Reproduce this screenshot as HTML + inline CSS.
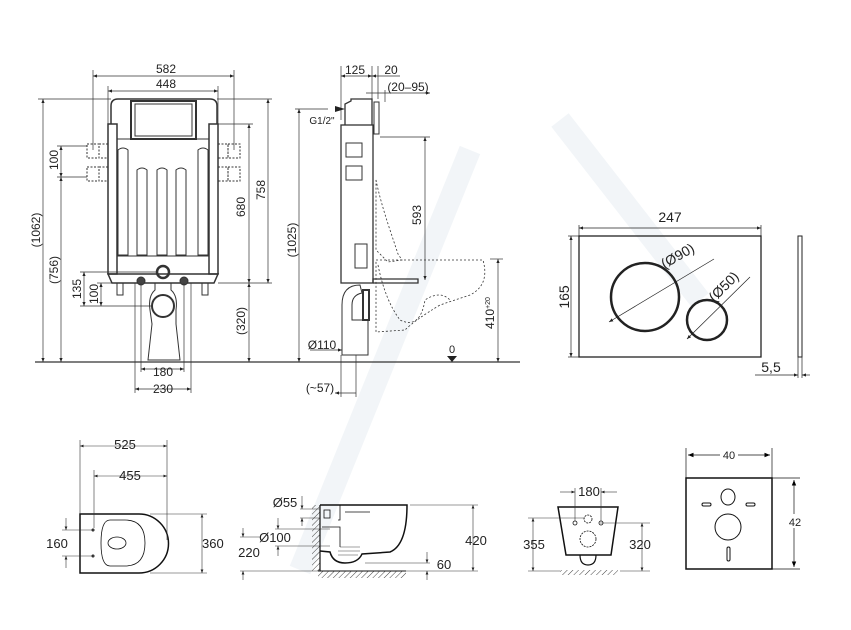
<!DOCTYPE html>
<html><head><meta charset="utf-8"><style>
html,body{margin:0;padding:0;background:#fff}
svg{display:block}
text{font-family:"Liberation Sans",sans-serif;fill:#222}
</style></head><body>
<svg width="851" height="630" viewBox="0 0 851 630" xmlns="http://www.w3.org/2000/svg">
<defs>
<marker id="a" viewBox="0 0 10 10" refX="10" refY="5" markerWidth="6" markerHeight="6" orient="auto-start-reverse"><path d="M0,1 L10,5 L0,9z" fill="#222"/></marker>
<marker id="b" viewBox="0 0 10 10" refX="10" refY="5" markerWidth="8" markerHeight="8" orient="auto-start-reverse"><path d="M0,1 L10,5 L0,9z" fill="#000"/></marker>
<pattern id="h" width="4" height="4" patternUnits="userSpaceOnUse" patternTransform="rotate(45)"><line x1="0" y1="0" x2="0" y2="4" stroke="#444" stroke-width="1"/></pattern>
</defs>
<g stroke="#f2f5f8" stroke-width="22" fill="none">
<path d="M300,570 L470,150"/><path d="M560,120 L700,300"/>
</g>
<!-- FRONT VIEW -->
<g stroke="#333" stroke-width="1" fill="none">
<line x1="35" y1="362" x2="520" y2="362" stroke-width="1.2"/>
<path d="M111,124 L111,106 Q111,99 118,99 L210,99 Q217,99 217,106 L217,124" stroke-width="1.5"/>
<rect x="108" y="124" width="9" height="150" stroke-width="1.5"/>
<rect x="209" y="124" width="9" height="150" stroke-width="1.5"/>
<line x1="117" y1="139" x2="209" y2="139"/>
<rect x="131" y="101" width="65" height="38" stroke-width="2"/>
<rect x="135" y="104" width="57" height="32"/>
<path d="M117,256 L209,256"/>
<path d="M118,150 q5,-4 10,0 V255 H118z M137,170 q5,-4 10,0 V255 H137z M157,170 q5,-4 10,0 V255 H157z M176,170 q5,-4 10,0 V255 H176z M198,150 q5,-4 10,0 V255 H198z"/>
<path d="M108,274 L218,274 L214,283 L112,283z" stroke-width="1.5"/>
<rect x="117" y="283" width="6" height="12"/><rect x="202" y="283" width="6" height="12"/>
<circle cx="163" cy="272" r="6" stroke-width="2.5"/>
<circle cx="141" cy="281" r="4" fill="#444"/><circle cx="184" cy="281" r="4" fill="#444"/>
<path d="M155,283 L171,283 L171,290 Q178,296 176,310 L176,324 L180,360 L148,360 L152,324 L150,310 Q148,296 155,290z"/>
<circle cx="163" cy="306" r="11" stroke-width="2"/>
<g stroke-dasharray="2,1.5"><rect x="87" y="144" width="12" height="14"/><rect x="99" y="144" width="9" height="14"/><rect x="87" y="167" width="12" height="14"/><rect x="99" y="167" width="9" height="14"/>
<rect x="218" y="144" width="10" height="14"/><rect x="228" y="144" width="12" height="14"/><rect x="218" y="167" width="10" height="14"/><rect x="228" y="167" width="12" height="14"/></g>
</g>
<g stroke="#333" stroke-width="0.7" fill="none">
<line x1="93" y1="70" x2="93" y2="150"/><line x1="234" y1="70" x2="234" y2="150"/>
<line x1="93" y1="76" x2="234" y2="76" marker-start="url(#a)" marker-end="url(#a)"/>
<line x1="108" y1="86" x2="108" y2="124"/><line x1="218" y1="86" x2="218" y2="124"/>
<line x1="108" y1="91" x2="218" y2="91" marker-start="url(#a)" marker-end="url(#a)"/>
<line x1="38" y1="99" x2="111" y2="99"/><line x1="43" y1="99" x2="43" y2="362" marker-start="url(#a)" marker-end="url(#a)"/>
<line x1="57" y1="146" x2="87" y2="146"/><line x1="57" y1="177" x2="87" y2="177"/>
<line x1="61" y1="146" x2="61" y2="177" marker-start="url(#a)" marker-end="url(#a)"/>
<line x1="61" y1="177" x2="61" y2="362" marker-start="url(#a)" marker-end="url(#a)"/>
<line x1="80" y1="272" x2="157" y2="272"/><line x1="80" y1="306" x2="152" y2="306"/><line x1="97" y1="283" x2="112" y2="283"/>
<line x1="84" y1="272" x2="84" y2="306" marker-start="url(#a)" marker-end="url(#a)"/>
<line x1="101" y1="283" x2="101" y2="306" marker-start="url(#a)" marker-end="url(#a)"/>
<line x1="217" y1="99" x2="272" y2="99"/><line x1="268" y1="99" x2="268" y2="283" marker-start="url(#a)" marker-end="url(#a)"/>
<line x1="218" y1="124" x2="253" y2="124"/><line x1="218" y1="283" x2="272" y2="283"/>
<line x1="249" y1="124" x2="249" y2="283" marker-start="url(#a)" marker-end="url(#a)"/>
<line x1="249" y1="283" x2="249" y2="362" marker-start="url(#a)" marker-end="url(#a)"/>
<line x1="141" y1="283" x2="141" y2="372"/><line x1="184" y1="283" x2="184" y2="372"/>
<line x1="135" y1="283" x2="135" y2="393"/><line x1="191" y1="283" x2="191" y2="393"/>
<line x1="141" y1="369" x2="184" y2="369" marker-start="url(#a)" marker-end="url(#a)"/>
<line x1="135" y1="389" x2="191" y2="389" marker-start="url(#a)" marker-end="url(#a)"/>
</g>
<g font-size="12">
<text x="166" y="73" text-anchor="middle">582</text>
<text x="166" y="88" text-anchor="middle">448</text>
<text transform="translate(40,230) rotate(-90)" text-anchor="middle">(1062)</text>
<text transform="translate(58,160) rotate(-90)" text-anchor="middle">100</text>
<text transform="translate(58,270) rotate(-90)" text-anchor="middle">(756)</text>
<text transform="translate(81,289) rotate(-90)" text-anchor="middle">135</text>
<text transform="translate(98,294) rotate(-90)" text-anchor="middle">100</text>
<text transform="translate(265,190) rotate(-90)" text-anchor="middle">758</text>
<text transform="translate(245,207) rotate(-90)" text-anchor="middle">680</text>
<text transform="translate(245,321) rotate(-90)" text-anchor="middle">(320)</text>
<text x="163" y="376" text-anchor="middle">180</text>
<text x="163" y="393" text-anchor="middle">230</text>
</g>
<!-- SIDE VIEW -->
<g stroke="#333" stroke-width="1.3" fill="none">
<path d="M345,125 V104 L351,101 V99 L372,99 V125"/>
<rect x="341" y="125" width="32" height="158"/>
<rect x="374" y="102" width="5" height="32" stroke-width="1"/>
<rect x="346" y="143" width="16" height="14" stroke-width="1"/><rect x="346" y="166" width="16" height="14" stroke-width="1"/>
<rect x="355" y="244" width="12" height="24" stroke-width="1"/>
<path d="M373,283 V279 H418 V283 H373"/>
<path d="M360,285 Q342,285 342,305 V355 H368 V320 H352 V305 Q352,295 362,293z" stroke-width="1"/>
<rect x="363" y="290" width="6" height="30" stroke-width="2"/>
<g stroke-dasharray="2,2" stroke-width="0.8">
<path d="M376,260 L483,260 Q490,285 470,295 L440,305 Q415,320 405,330 L376,332z"/>
<path d="M378,265 Q385,300 400,320 Q420,330 425,300 Q440,290 450,300"/>
<path d="M376,180 Q380,200 390,230 L398,254 L402,260 L388,262 L376,250 z"/>
</g>
</g>
<g stroke="#333" stroke-width="0.7" fill="none">
<line x1="341" y1="66" x2="341" y2="120"/><line x1="372" y1="66" x2="372" y2="99"/><line x1="378" y1="66" x2="378" y2="99"/><line x1="385" y1="90" x2="385" y2="102"/>
<line x1="341" y1="76" x2="372" y2="76" marker-start="url(#a)" marker-end="url(#a)"/>
<line x1="372" y1="76" x2="400" y2="76" marker-start="url(#a)"/>
<line x1="366" y1="93" x2="430" y2="93" marker-end="url(#a)"/>
<line x1="295" y1="109" x2="328" y2="109"/>
<line x1="299" y1="109" x2="299" y2="362" marker-start="url(#a)" marker-end="url(#a)"/>
<line x1="380" y1="137" x2="430" y2="137"/><line x1="425" y1="137" x2="425" y2="280" marker-start="url(#a)" marker-end="url(#a)"/>
<line x1="490" y1="259" x2="503" y2="259"/><line x1="498" y1="259" x2="498" y2="362" marker-start="url(#a)" marker-end="url(#a)"/>
<line x1="310" y1="350" x2="342" y2="350" marker-end="url(#a)"/>
<line x1="341" y1="355" x2="341" y2="397"/><line x1="356" y1="355" x2="356" y2="397"/>
<line x1="335" y1="393" x2="356" y2="393" marker-start="url(#a)"/>
</g>
<path d="M335,106 L345,109 L335,112z" fill="#222"/>
<path d="M447,356 L457,356 L452,362z" fill="#222"/>
<g font-size="11">
<text x="355" y="74" text-anchor="middle" font-size="12">125</text>
<text x="391" y="74" text-anchor="middle" font-size="12">20</text>
<text x="408" y="91" text-anchor="middle" font-size="12">(20–95)</text>
<text x="322" y="124" text-anchor="middle" font-size="10">G1/2"</text>
<text transform="translate(296,240) rotate(-90)" text-anchor="middle" font-size="12">(1025)</text>
<text transform="translate(421,215) rotate(-90)" text-anchor="middle" font-size="12">593</text>
<text transform="translate(494,313) rotate(-90)" text-anchor="middle" font-size="12">410<tspan font-size="7" dy="-4">+20</tspan></text>
<text x="322" y="349" text-anchor="middle" font-size="12">Ø110</text>
<text x="320" y="392" text-anchor="middle" font-size="12">(~57)</text>
<text x="452" y="353" text-anchor="middle" font-size="11">0</text>
</g>
<!-- FLUSH PLATE -->
<g stroke="#222" fill="none">
<rect x="579" y="236" width="182" height="121" stroke-width="1.3"/>
<circle cx="645" cy="297" r="34" stroke-width="2.5"/>
<circle cx="707" cy="320" r="20" stroke-width="2.5"/>
<rect x="798" y="236" width="4" height="121" stroke-width="1"/>
<line x1="579" y1="225" x2="579" y2="236" stroke-width="0.7"/><line x1="761" y1="225" x2="761" y2="236" stroke-width="0.7"/>
<line x1="579" y1="228" x2="761" y2="228" stroke-width="0.7" marker-start="url(#a)" marker-end="url(#a)"/>
<line x1="568" y1="236" x2="579" y2="236" stroke-width="0.7"/><line x1="568" y1="357" x2="579" y2="357" stroke-width="0.7"/>
<line x1="571" y1="236" x2="571" y2="357" stroke-width="0.7" marker-start="url(#a)" marker-end="url(#a)"/>
<line x1="609" y1="322" x2="714" y2="259" stroke-width="0.7" marker-start="url(#a)"/>
<line x1="687" y1="339" x2="750" y2="277" stroke-width="0.7" marker-start="url(#a)"/>
<line x1="798" y1="357" x2="798" y2="378" stroke-width="0.7"/><line x1="802" y1="357" x2="802" y2="378" stroke-width="0.7"/>
<line x1="755" y1="375" x2="798" y2="375" stroke-width="0.7" marker-end="url(#a)"/>
<line x1="802" y1="375" x2="810" y2="375" stroke-width="0.7" marker-start="url(#a)"/>
</g>
<g font-size="14">
<text x="670" y="222" text-anchor="middle">247</text>
<text transform="translate(569,297) rotate(-90)" text-anchor="middle">165</text>
<text transform="translate(680,260) rotate(-30)" text-anchor="middle">(Ø90)</text>
<text transform="translate(727,290) rotate(-45)" text-anchor="middle">(Ø50)</text>
<text x="771" y="372" text-anchor="middle">5,5</text>
</g>
<!-- BOTTOM: TOP VIEW -->
<g stroke="#111" fill="none">
<path d="M80,514 L139,514 A29.5,29.5 0 0 1 139,573 L80,573z" stroke-width="1.5"/>
<path d="M125,520 Q145,520 145,543 Q145,566 125,566 L110,566 Q101,566 101,543 Q101,520 110,520z" stroke-width="0.8"/>
<ellipse cx="117" cy="543" rx="9" ry="6" stroke-width="0.8"/>
<circle cx="93" cy="530" r="1" /><circle cx="93" cy="556" r="1"/>
</g>
<g stroke="#333" stroke-width="0.6" fill="none">
<line x1="80" y1="440" x2="80" y2="514"/><line x1="167" y1="440" x2="167" y2="540"/><line x1="94" y1="470" x2="94" y2="528"/>
<line x1="80" y1="446" x2="167" y2="446" marker-start="url(#a)" marker-end="url(#a)"/>
<line x1="94" y1="476" x2="167" y2="476" marker-start="url(#a)" marker-end="url(#a)"/>
<line x1="150" y1="514" x2="207" y2="514"/><line x1="150" y1="573" x2="207" y2="573"/>
<line x1="202" y1="514" x2="202" y2="573" marker-start="url(#a)" marker-end="url(#a)"/>
<line x1="62" y1="530" x2="93" y2="530"/><line x1="62" y1="556" x2="93" y2="556"/>
<line x1="66" y1="518" x2="66" y2="530" marker-end="url(#a)"/><line x1="66" y1="568" x2="66" y2="556" marker-end="url(#a)"/>
</g>
<g font-size="13" fill="#333">
<text x="125" y="449" text-anchor="middle">525</text>
<text x="130" y="480" text-anchor="middle">455</text>
<text x="202" y="548" text-anchor="start">360</text>
<text x="57" y="548" text-anchor="middle">160</text>
</g>
<!-- BOTTOM: SIDE TOILET -->
<g stroke="#111" fill="none">
<rect x="312" y="505" width="8" height="66" fill="url(#h)" stroke="none"/>
<rect x="318" y="571" width="88" height="7" fill="url(#h)" stroke="none"/>
<line x1="320" y1="505" x2="320" y2="571" stroke-width="1.2"/><line x1="318" y1="571" x2="406" y2="571" stroke-width="1"/>
<path d="M320,505 L407,505 Q407,545 390,552 L362,554 Q358,563 345,563 Q333,563 330,552 L320,551" stroke-width="1.5"/>
<rect x="324" y="510" width="6" height="8" stroke-width="0.8"/>
<path d="M340,505 V520 H338 M345,512 H370 M322,527 H340 V547" stroke-width="0.8"/>
<g stroke-width="0.4"><line x1="340" y1="547" x2="360" y2="547"/><line x1="338" y1="551" x2="360" y2="551"/><line x1="338" y1="555" x2="358" y2="555"/></g>
</g>
<g stroke="#333" stroke-width="0.6" fill="none">
<line x1="300" y1="509" x2="320" y2="509"/><line x1="300" y1="518" x2="320" y2="518"/>
<line x1="302" y1="496" x2="302" y2="509" marker-end="url(#a)"/><line x1="302" y1="526" x2="302" y2="518" marker-end="url(#a)"/>
<line x1="275" y1="529" x2="330" y2="529"/><line x1="275" y1="546" x2="330" y2="546"/>
<line x1="278" y1="518" x2="278" y2="529" marker-end="url(#a)"/><line x1="278" y1="556" x2="278" y2="546" marker-end="url(#a)"/>
<line x1="240" y1="537" x2="260" y2="537"/><line x1="240" y1="571" x2="318" y2="571"/>
<line x1="243" y1="528" x2="243" y2="537" marker-end="url(#a)"/><line x1="243" y1="580" x2="243" y2="571" marker-end="url(#a)"/>
<line x1="410" y1="505" x2="478" y2="505"/><line x1="406" y1="571" x2="478" y2="571"/><line x1="365" y1="563" x2="430" y2="563"/>
<line x1="473" y1="505" x2="473" y2="571" marker-start="url(#a)" marker-end="url(#a)"/>
<line x1="427" y1="552" x2="427" y2="563" marker-end="url(#a)"/><line x1="427" y1="580" x2="427" y2="571" marker-end="url(#a)"/>
</g>
<g font-size="13" fill="#333">
<text x="285" y="507" text-anchor="middle">Ø55</text>
<text x="275" y="542" text-anchor="middle">Ø100</text>
<text x="249" y="557" text-anchor="middle">220</text>
<text x="476" y="545" text-anchor="middle">420</text>
<text x="444" y="569" text-anchor="middle">60</text>
</g>
<!-- BOTTOM: FRONT TOILET -->
<g stroke="#111" fill="none">
<path d="M558,507 L618,507 L611,555 L566,555z" stroke-width="1.5"/>
<path d="M580,555 Q580,565 588,565 Q596,565 596,555" stroke-width="1.2"/>
<circle cx="588" cy="519" r="4" stroke-dasharray="2,1" stroke-width="0.8"/>
<circle cx="588" cy="539" r="8" stroke-dasharray="2,1" stroke-width="0.8"/>
<circle cx="575" cy="523" r="2" stroke-width="0.8"/><circle cx="601" cy="523" r="2" stroke-width="0.8"/>
<rect x="560" y="570" width="58" height="5" fill="url(#h)" stroke="none"/>
</g>
<g stroke="#333" stroke-width="0.6" fill="none">
<line x1="575" y1="488" x2="575" y2="521"/><line x1="601" y1="488" x2="601" y2="521"/>
<line x1="560" y1="492" x2="575" y2="492" marker-end="url(#a)"/><line x1="617" y1="492" x2="601" y2="492" marker-end="url(#a)"/>
<line x1="528" y1="518" x2="585" y2="518"/><line x1="600" y1="523" x2="650" y2="523"/>
<line x1="528" y1="571" x2="560" y2="571"/><line x1="620" y1="571" x2="650" y2="571"/>
<line x1="533" y1="518" x2="533" y2="571" marker-start="url(#a)" marker-end="url(#a)"/>
<line x1="642" y1="523" x2="642" y2="571" marker-start="url(#a)" marker-end="url(#a)"/>
</g>
<g font-size="13" fill="#333">
<text x="589" y="496" text-anchor="middle">180</text>
<text x="534" y="549" text-anchor="middle">355</text>
<text x="640" y="549" text-anchor="middle">320</text>
</g>
<!-- PAD -->
<g stroke="#111" fill="none">
<rect x="686" y="478" width="86" height="91" stroke-width="1.5"/>
<ellipse cx="728" cy="497" rx="7" ry="8" stroke-width="1"/>
<rect x="702" y="503" width="9" height="3" rx="1.5" stroke-width="1"/><rect x="746" y="503" width="9" height="3" rx="1.5" stroke-width="1"/>
<circle cx="728" cy="527" r="13" stroke-width="1"/>
<rect x="727" y="547" width="3" height="14" rx="1.5" stroke-width="1"/>
<line x1="686" y1="448" x2="686" y2="478" stroke-width="0.7"/><line x1="772" y1="448" x2="772" y2="478" stroke-width="0.7"/>
<line x1="688" y1="455" x2="770" y2="455" stroke-width="0.7" marker-start="url(#b)" marker-end="url(#b)"/>
<line x1="772" y1="478" x2="800" y2="478" stroke-width="0.7"/><line x1="772" y1="569" x2="800" y2="569" stroke-width="0.7"/>
<line x1="794" y1="480" x2="794" y2="567" stroke-width="0.7" marker-start="url(#b)" marker-end="url(#b)"/>
</g>
<rect x="720" y="448" width="18" height="12" fill="#fff"/>
<rect x="788" y="514" width="14" height="14" fill="#fff"/>
<text x="729" y="459" text-anchor="middle" font-size="11">40</text>
<text x="795" y="526" text-anchor="middle" font-size="11">42</text>
</svg>
</body></html>
